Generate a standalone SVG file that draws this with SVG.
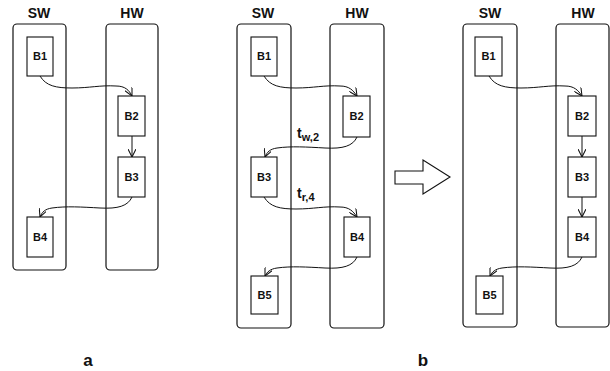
<svg xmlns="http://www.w3.org/2000/svg" width="610" height="371" viewBox="0 0 610 371">
<defs>
<style>
.lane{fill:none;stroke:#111;stroke-width:1.2}
.blk{fill:#fff;stroke:#111;stroke-width:1.1}
.edge{fill:none;stroke:#111;stroke-width:1;marker-end:url(#ah)}
.lt{font-family:"Liberation Sans",Arial,sans-serif;font-weight:bold;font-size:14px;text-anchor:middle;fill:#111}
.bt{font-family:"Liberation Sans",Arial,sans-serif;font-weight:bold;font-size:11px;text-anchor:middle;fill:#111}
.pt{font-family:"Liberation Sans",Arial,sans-serif;font-weight:bold;font-size:17px;text-anchor:middle;fill:#111}
.tt{font-family:"Liberation Sans",Arial,sans-serif;font-weight:bold;font-size:14px;fill:#111}
</style>
<marker id="ah" viewBox="0 0 10 10" refX="10" refY="5" markerWidth="8" markerHeight="8" markerUnits="userSpaceOnUse" orient="auto">
<path d="M0,0 L10,5 L0,10" fill="none" stroke="#111" stroke-width="1.3"/>
</marker>
</defs>

<!-- Panel a -->
<g id="a-lanes">
<rect class="lane" x="13" y="24" width="53" height="246" rx="4"/>
<rect class="lane" x="106" y="24" width="52" height="246" rx="4"/>
<text class="lt" x="39" y="18">SW</text>
<text class="lt" x="132" y="18">HW</text>
</g>
<g id="a-B1"><rect class="blk" x="27" y="37" width="26" height="39"/><text class="bt" x="40" y="60">B1</text></g>
<g id="a-B2"><rect class="blk" x="118" y="96" width="27" height="40"/><text class="bt" x="131.5" y="120">B2</text></g>
<g id="a-B3"><rect class="blk" x="118" y="157" width="27" height="40"/><text class="bt" x="131.5" y="181">B3</text></g>
<g id="a-B4"><rect class="blk" x="27" y="217" width="26" height="40"/><text class="bt" x="40" y="241">B4</text></g>

<!-- Panel b -->
<g id="b-lanes">
<rect class="lane" x="237" y="24" width="54" height="304" rx="4"/>
<rect class="lane" x="330" y="24" width="54" height="304" rx="4"/>
<text class="lt" x="263" y="18">SW</text>
<text class="lt" x="357" y="18">HW</text>
</g>
<g id="b-B1"><rect class="blk" x="251" y="37" width="26" height="39"/><text class="bt" x="264" y="60">B1</text></g>
<g id="b-B2"><rect class="blk" x="343" y="96" width="27" height="41"/><text class="bt" x="356.5" y="120">B2</text></g>
<g id="b-B3"><rect class="blk" x="251" y="157" width="26" height="40"/><text class="bt" x="264" y="181">B3</text></g>
<g id="b-B4"><rect class="blk" x="344" y="217" width="26" height="40"/><text class="bt" x="357" y="241">B4</text></g>
<g id="b-B5"><rect class="blk" x="251" y="276" width="27" height="38"/><text class="bt" x="264.5" y="299">B5</text></g>

<!-- Big arrow -->
<g id="big-arrow">
<path d="M395,171 L423,171 L423,160 L450,177 L423,194 L423,184 L395,184 Z" fill="#fff" stroke="#111" stroke-width="1.1"/>
</g>

<!-- Panel c -->
<g id="c-lanes">
<rect class="lane" x="463" y="24" width="54" height="303" rx="4"/>
<rect class="lane" x="556" y="24" width="53" height="303" rx="4"/>
<text class="lt" x="490" y="18">SW</text>
<text class="lt" x="583" y="18">HW</text>
</g>
<g id="c-B1"><rect class="blk" x="475" y="37" width="27" height="39"/><text class="bt" x="488.5" y="60">B1</text></g>
<g id="c-B2"><rect class="blk" x="568" y="96" width="28" height="40"/><text class="bt" x="582" y="120">B2</text></g>
<g id="c-B3"><rect class="blk" x="568" y="157" width="28" height="40"/><text class="bt" x="582" y="181">B3</text></g>
<g id="c-B4"><rect class="blk" x="568" y="217" width="28" height="40"/><text class="bt" x="582" y="241">B4</text></g>
<g id="c-B5"><rect class="blk" x="476" y="276" width="27" height="38"/><text class="bt" x="489.5" y="299">B5</text></g>

<!-- Connectors -->
<g id="connectors">
<path class="edge" d="M40,76 C46,86 56,88 72,88 C90,88 100,85 116,86 C125,86 129,90 132,96"/>
<path class="edge" d="M132,136 L132,157"/>
<path class="edge" d="M132,197 C128,206 118,209 100,208 C82,207 66,206 52,208 C45,209 42,212 40,217"/>

<path class="edge" d="M264,76 C270,86 280,88 296,88 C314,88 324,85 340,86 C349,86 353,90 357,96"/>
<path class="edge" d="M357,137 C353,146 343,149 325,148 C307,147 291,146 277,148 C270,149 267,152 265,157"/>
<path class="edge" d="M264,197 C270,207 280,209 296,209 C314,209 324,206 340,207 C349,207 353,211 357,217"/>
<path class="edge" d="M357,257 C353,266 343,269 325,268 C307,267 291,266 277,268 C270,269 267,272 265,276"/>

<path class="edge" d="M489,76 C495,86 505,88 521,88 C539,88 549,85 565,86 C574,86 578,90 582,96"/>
<path class="edge" d="M582,136 L582,157"/>
<path class="edge" d="M582,197 L582,217"/>
<path class="edge" d="M582,257 C578,266 568,269 550,268 C532,267 516,266 502,268 C495,269 492,272 490,276"/>
</g>

<g id="edge-labels">
<text class="tt" x="297" y="138">t<tspan font-size="11" dy="3">w,2</tspan></text>
<text class="tt" x="297" y="198">t<tspan font-size="11" dy="3">r,4</tspan></text>
</g>

<text class="pt" x="88" y="366">a</text>
<text class="pt" x="423" y="366">b</text>
</svg>
